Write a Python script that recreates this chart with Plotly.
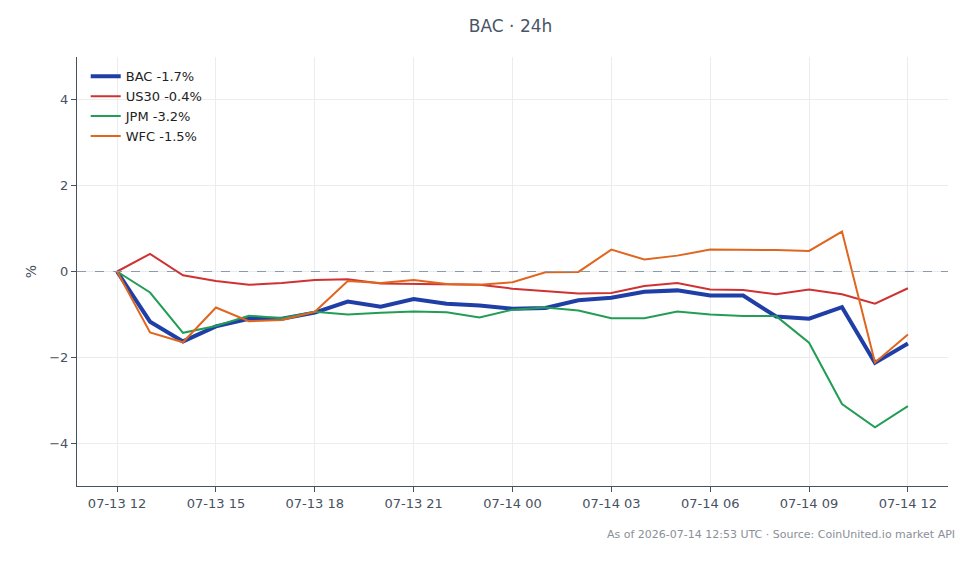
import plotly.graph_objects as go
import pandas as pd

times = pd.date_range("2026-07-13 12:00", "2026-07-14 12:00", freq="h")

bac = [0, -1.17, -1.63, -1.28, -1.10, -1.10, -0.96, -0.70, -0.82, -0.64, -0.75, -0.79, -0.87,
       -0.85, -0.67, -0.61, -0.47, -0.44, -0.56, -0.56, -1.05, -1.10, -0.83, -2.13, -1.68]
us30 = [0, 0.41, -0.09, -0.22, -0.31, -0.27, -0.20, -0.18, -0.28, -0.29, -0.30, -0.31, -0.40,
        -0.46, -0.51, -0.50, -0.34, -0.27, -0.42, -0.43, -0.53, -0.42, -0.53, -0.75, -0.39]
jpm = [0, -0.49, -1.43, -1.27, -1.03, -1.09, -0.94, -1.00, -0.96, -0.93, -0.95, -1.07, -0.89,
       -0.84, -0.91, -1.09, -1.09, -0.93, -1.00, -1.04, -1.04, -1.66, -3.09, -3.63, -3.14]
wfc = [0, -1.42, -1.65, -0.84, -1.16, -1.13, -0.94, -0.22, -0.27, -0.20, -0.29, -0.31, -0.25,
       -0.02, -0.01, 0.51, 0.28, 0.37, 0.51, 0.51, 0.50, 0.48, 0.93, -2.12, -1.47]

names = ["BAC -1.7%", "US30 -0.4%", "JPM -3.2%", "WFC -1.5%"]
colors = ["#1f3fa6", "#cf3232", "#239d55", "#e0661f"]
widths = [4, 2, 2, 2]
series = [bac, us30, jpm, wfc]

fig = go.Figure()
for n, c, w, s in zip(names, colors, widths, series):
    fig.add_trace(go.Scatter(x=times, y=s, mode="lines", name=n,
                             line=dict(color=c, width=w)))

fig.add_hline(y=0, line=dict(color="#8a9bb0", width=1, dash="dash"))

axis_color = "#48515f"

fig.update_layout(
    width=980, height=564,
    margin=dict(l=77, r=32, t=57, b=78),
    paper_bgcolor="white", plot_bgcolor="white",
    font=dict(family="DejaVu Sans", size=13, color=axis_color),
    title=dict(text="BAC · 24h", x=0.521, xanchor="center", y=0.965, yanchor="top",
               font=dict(size=17, color="#4a5568")),
    legend=dict(x=0.01, y=0.99, xanchor="left", yanchor="top",
                bgcolor="rgba(255,255,255,0)", font=dict(size=13, color="#222"),
                tracegroupgap=2),
    xaxis=dict(
        range=[pd.Timestamp("2026-07-13 10:47"), pd.Timestamp("2026-07-14 13:13")],
        tickformat="%m-%d %H", dtick=3 * 3600 * 1000,
        tick0="2026-07-13 12:00",
        showgrid=True, gridcolor="#ececec", gridwidth=1,
        showline=True, linecolor=axis_color, linewidth=1,
        ticks="outside", ticklen=5, tickcolor=axis_color,
        tickfont=dict(size=13, color=axis_color),
        zeroline=False,
    ),
    yaxis=dict(
        range=[-5, 5], dtick=2, tick0=0,
        title=dict(text="%", font=dict(size=14, color=axis_color), standoff=9),
        showgrid=True, gridcolor="#ececec", gridwidth=1,
        showline=True, linecolor=axis_color, linewidth=1,
        ticks="outside", ticklen=5, tickcolor=axis_color,
        tickfont=dict(size=13, color=axis_color),
        zeroline=False,
    ),
    showlegend=True,
)

fig.add_annotation(text="As of 2026-07-14 12:53 UTC · Source: CoinUnited.io market API",
                   xref="paper", yref="paper", x=1.01, y=-0.112, xanchor="right", yanchor="middle",
                   showarrow=False, font=dict(size=11, color="#8a8f98"))

fig.write_html("out.html")
